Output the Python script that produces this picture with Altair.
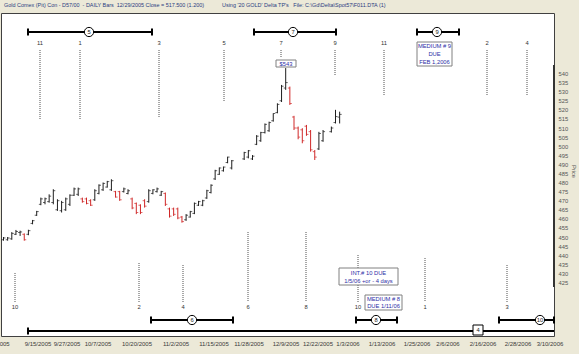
import altair as alt
import pandas as pd

# ---------------- data ----------------
bar_pos = list(range(0, 56)) + list(range(58, 78)) + [79, 80, 81]
bar_high = [450, 450, 452.7, 453.9, 453.5, 452, 454, 459.4, 464.4, 471.7,
            471.7, 473.5, 476.3, 470.8, 469.9, 471.7, 473.5, 477.2, 477.2, 471.7,
            471.7, 470.8, 476.3, 479, 480, 480.9, 481.8, 475.4, 475.4, 477.2,
            476.3, 471.7, 469, 468, 470.8, 476.3, 476.3, 477.2, 475.4, 474.5,
            466.2, 466.2, 466.2, 461.6, 462.6, 464.4, 469, 469.9, 470.5, 476,
            479, 487, 488.3, 488.8, 494.2, 492.4,
            496.9, 497.9, 495.1, 506.1, 507.9, 512.5, 513.5, 518.1, 523.6, 533.7,
            543, 532.8, 516.7, 510.8, 509.9, 511.7, 508.9, 497.9, 507.9, 508.9,
            510.8, 520, 519]
bar_low = [448, 448, 448.5, 451.1, 450.6, 448, 451, 457, 461.6, 467.5,
           468, 468.9, 468, 464.4, 463.5, 464.4, 467.1, 472.6, 472.6, 468.9,
           468, 467.1, 469.9, 473.5, 475.4, 477.2, 475.4, 471.7, 469.9, 474.5,
           473.5, 465.3, 462.6, 462.6, 466.2, 468.9, 473.5, 474.5, 472.6, 467.1,
           460.7, 461.6, 459.8, 457.9, 458.9, 460.7, 462.6, 467.1, 467, 471,
           474, 481.4, 484.2, 486, 490.6, 487.2,
           492.4, 493.3, 492.4, 500.6, 502.4, 507, 507.9, 513.5, 518.1, 524.3,
           531, 522.7, 508.9, 503.8, 501.6, 505.7, 497, 492.4, 497.9, 502.4,
           507.5, 512.5, 512.5]
bar_open = [448.5, 448.5, 449, 451.5, 452.5, 451.5, 451.5, 457.5, 462, 468,
            469, 469.5, 469, 465, 464.5, 465, 468, 473, 473.5, 471,
            471, 470, 470.5, 474, 476, 477.5, 476, 475, 475, 475,
            474, 471, 468.5, 467.5, 470, 469.5, 474, 475, 473, 474,
            465.5, 465.5, 465.5, 461, 459.5, 461, 463, 467.5, 467.5, 471.5,
            474.5, 482, 484.5, 486.5, 491, 488,
            493, 494, 493, 501, 503, 507.5, 508.5, 514, 518.5, 525,
            532, 532, 516, 510, 509, 511, 508, 497, 498.5, 503,
            508, 513, 516]
bar_close = [449.5, 449.5, 452, 453, 452.8, 448.5, 453.5, 459, 464, 471,
             471, 472.5, 475.5, 470, 469, 471, 473, 476.5, 476.5, 469.5,
             468.5, 467.5, 475.5, 478.5, 479.5, 480.5, 481, 472, 470.5, 476.5,
             475.5, 466, 463.5, 463.5, 467, 475.5, 476, 476.5, 475, 468,
             461.5, 462.5, 460.5, 458.5, 462, 464, 468.5, 469.5, 470, 475.5,
             478.5, 486.5, 488, 488.5, 494, 492,
             496.5, 497.5, 494.5, 505.5, 507.5, 512, 513, 518, 523, 533,
             535, 523.5, 510, 505, 503, 506.5, 498, 494, 507, 508,
             510, 516.3, 517.5]

price_ticks = list(range(425, 545, 5))

date_labels = ["9/5/2005", "9/15/2005", "9/27/2005", "10/7/2005", "10/20/2005",
               "11/2/2005", "11/15/2005", "11/28/2005", "12/9/2005", "12/22/2005",
               "1/3/2006", "1/13/2006", "1/25/2006", "2/6/2006", "2/16/2006",
               "2/28/2006", "3/10/2006"]
date_px = [-2, 38, 67, 98, 137, 176, 214, 249, 286, 318, 348, 382, 417, 448, 483, 518, 550]

top_nums = ["11", "1", "3", "5", "7", "9", "11", "2", "4"]
top_num_px = [40, 80, 159, 224, 281, 335, 384, 487, 527]
top_line_end_px = [119, 119, 117, 102, 58, 75, 95, 95, 95]

bot_nums = ["10", "2", "4", "6", "8", "10", "1", "3"]
bot_num_px = [15, 139, 183, 248, 306, 358, 425, 507]
bot_line_start_px = [273, 263, 265, 232, 232, 255, 258, 265]

top_br_start = [28, 254, 417]
top_br_end = [152, 336, 459]
top_br_circle = [89, 293, 437]
top_br_label = ["5", "7", "9"]

bot_br_start = [151, 356, 499]
bot_br_end = [233, 397, 554]
bot_br_circle = [192, 376, 540]
bot_br_label = ["6", "8", "10"]

header_left = "Gold Comex (Pit) Con - D57/00 \u00a0- DAILY Bars \u00a012/29/2005 Close = 517.500 (1.200)"
header_right = "Using '20 GOLD' Delta TP's \u00a0 File: C:\\Gd\\Delta\\Spot57\\F011.DTA (1)"

# ---------------- geometry helpers ----------------
W, H = 553, 323
PAD_L, PAD_T = 1, 13
X0, S = 3.5, 4.15
YHI, YLO = 573.30, 395.53
FONT = "Liberation Sans"
FS = 5.8
BLUE = "#2E2EA6"


def xi(px):
    return (px - X0) / S


def yp(py):
    return YHI - (py - PAD_T) / H * (YHI - YLO)


xsc = alt.Scale(domain=[xi(PAD_L), xi(PAD_L + W)], nice=False, zero=False)
ysc = alt.Scale(domain=[YLO, YHI], nice=False, zero=False)
yaxis = alt.Axis(orient="right", values=price_ticks, domain=False, ticks=False, grid=False,
                 labelPadding=4, labelFont=FONT, labelFontSize=FS, labelColor="#555555",
                 title="Price", titleFont=FONT, titleFontSize=FS, titleFontWeight="normal",
                 titleColor="#555555", titleAngle=90, titleX=19, titleY=158,
                 titleAlign="center", titleBaseline="middle")


def X(f):
    return alt.X(f"{f}:Q", scale=xsc, axis=None)


def Y(f):
    return alt.Y(f"{f}:Q", scale=ysc, axis=yaxis)


def texts(xs, ys, labels, color="#333333", size=FS, align="center"):
    df = pd.DataFrame({"x": xs, "y": ys, "t": labels})
    return alt.Chart(df).mark_text(font=FONT, fontSize=size, color=color,
                                   align=align, baseline="middle").encode(
        x=X("x"), y=Y("y"), text="t:N")


def rules(x0, x1, y0, y1, color="#000000", width=2.0, dash=None):
    df = pd.DataFrame({"x0": x0, "x1": x1, "y0": y0, "y1": y1})
    kw = dict(color=color, strokeWidth=width)
    if dash:
        kw["strokeDash"] = dash
    return alt.Chart(df).mark_rule(**kw).encode(x=X("x0"), x2="x1", y=Y("y0"), y2="y1")


def rects(x0, x1, y0, y1, fill="white", stroke="#808080"):
    df = pd.DataFrame({"x0": x0, "x1": x1, "y0": y0, "y1": y1})
    return alt.Chart(df).mark_rect(fill=fill, stroke=stroke, strokeWidth=1).encode(
        x=X("x0"), x2="x1", y=Y("y0"), y2="y1")


layers = []

# OHLC bars (first layer: owns the price axis)
bars = pd.DataFrame({"i": bar_pos, "h": bar_high, "l": bar_low, "o": bar_open, "c": bar_close})
base = alt.Chart(bars).transform_calculate(dir="datum.c >= datum.o ? 'up' : 'down'")
col = alt.Color("dir:N", scale=alt.Scale(domain=["up", "down"], range=["#1e1e1e", "#d02828"]),
                legend=None)
layers.append(base.mark_rule(strokeWidth=1).encode(x=X("i"), y=Y("h"), y2="l", color=col))
layers.append(base.mark_tick(orient="horizontal", size=2, thickness=1, xOffset=-1)
              .encode(x=X("i"), y=Y("o"), color=col))
layers.append(base.mark_tick(orient="horizontal", size=2, thickness=1, xOffset=1)
              .encode(x=X("i"), y=Y("c"), color=col))

# dotted cycle lines
layers.append(rules([xi(p) for p in top_num_px], [xi(p) for p in top_num_px],
                    [yp(50)] * len(top_num_px), [yp(p) for p in top_line_end_px],
                    color="#505050", width=1, dash=[1, 1]))
layers.append(rules([xi(p) for p in bot_num_px], [xi(p) for p in bot_num_px],
                    [yp(p) for p in bot_line_start_px], [yp(302)] * len(bot_num_px),
                    color="#505050", width=1, dash=[1, 1]))
layers.append(texts([xi(p) for p in top_num_px], [yp(43)] * len(top_nums), top_nums))
layers.append(texts([xi(p) for p in bot_num_px], [yp(307)] * len(bot_nums), bot_nums))


def bracket(starts, ends, circles, labels, ypx):
    out = []
    out.append(rules([xi(s) for s in starts], [xi(e) for e in ends],
                     [yp(ypx)] * len(starts), [yp(ypx)] * len(starts)))
    caps = starts + ends
    out.append(rules([xi(c) for c in caps], [xi(c) for c in caps],
                     [yp(ypx - 3.5)] * len(caps), [yp(ypx + 3.5)] * len(caps)))
    cdf = pd.DataFrame({"x": [xi(c) for c in circles], "y": [yp(ypx)] * len(circles)})
    out.append(alt.Chart(cdf).mark_point(shape="circle", filled=True, fill="white",
                                         stroke="black", strokeWidth=1, size=85, opacity=1)
               .encode(x=X("x"), y=Y("y")))
    out.append(texts([xi(c) for c in circles], [yp(ypx)] * len(circles), labels,
                     color="#222222", size=FS))
    return out


layers += bracket(top_br_start, top_br_end, top_br_circle, top_br_label, 32)
layers += bracket(bot_br_start, bot_br_end, bot_br_circle, bot_br_label, 320)

# long bottom time line with square marker
layers.append(rules([xi(28)], [xi(554)], [yp(331)], [yp(331)]))
layers.append(rules([xi(28)], [xi(28)], [yp(327.5)], [yp(334.5)]))
layers.append(rects([xi(473)], [xi(483)], [yp(325)], [yp(335)], stroke="#000000"))
layers.append(texts([xi(478)], [yp(330)], ["4"], color="#222222"))

# annotation boxes
layers.append(rects([xi(276), xi(417), xi(339), xi(365)],
                    [xi(296), xi(452), xi(398), xi(402)],
                    [yp(60), yp(42), yp(268), yp(295)],
                    [yp(67), yp(66), yp(285), yp(310)]))
layers.append(texts([xi(286), xi(434.5), xi(434.5), xi(434.5), xi(368.5), xi(368.5), xi(383.5), xi(383.5)],
                    [yp(63.5), yp(45.5), yp(53.5), yp(61.5), yp(272.5), yp(280.5), yp(298.5), yp(306)],
                    ["$543", "MEDIUM # 9", "DUE", "FEB 1,2006", "INT.# 10 DUE",
                     "1/5/06 +or - 4 days", "MEDIUM # 8", "DUE 1/11/06"],
                    color=BLUE))

# price axis dark segment
layers.append(rules([xi(554)], [xi(554)], [yp(65)], [yp(287)], color="#333333", width=2))

# date labels under the plot
layers.append(texts([xi(p) for p in date_px], [yp(344)] * len(date_labels), date_labels,
                    color="#3a3a3a", size=6.0))

# header
layers.append(texts([xi(4)], [yp(5)], [header_left], color="#2A3C80", size=5.45, align="left"))
layers.append(texts([xi(222)], [yp(5)], [header_right], color="#2A3C80", size=5.45, align="left"))

chart = alt.layer(*layers).properties(
    width=W, height=H, background="#ECE9D8",
    padding={"left": PAD_L, "top": PAD_T, "right": 25, "bottom": 18},
    autosize=alt.AutoSizeParams(type="none"),
).configure_view(fill="white", stroke="#404040", strokeWidth=1)

chart.save("out.html", embed_options={"renderer": "svg", "actions": False})
